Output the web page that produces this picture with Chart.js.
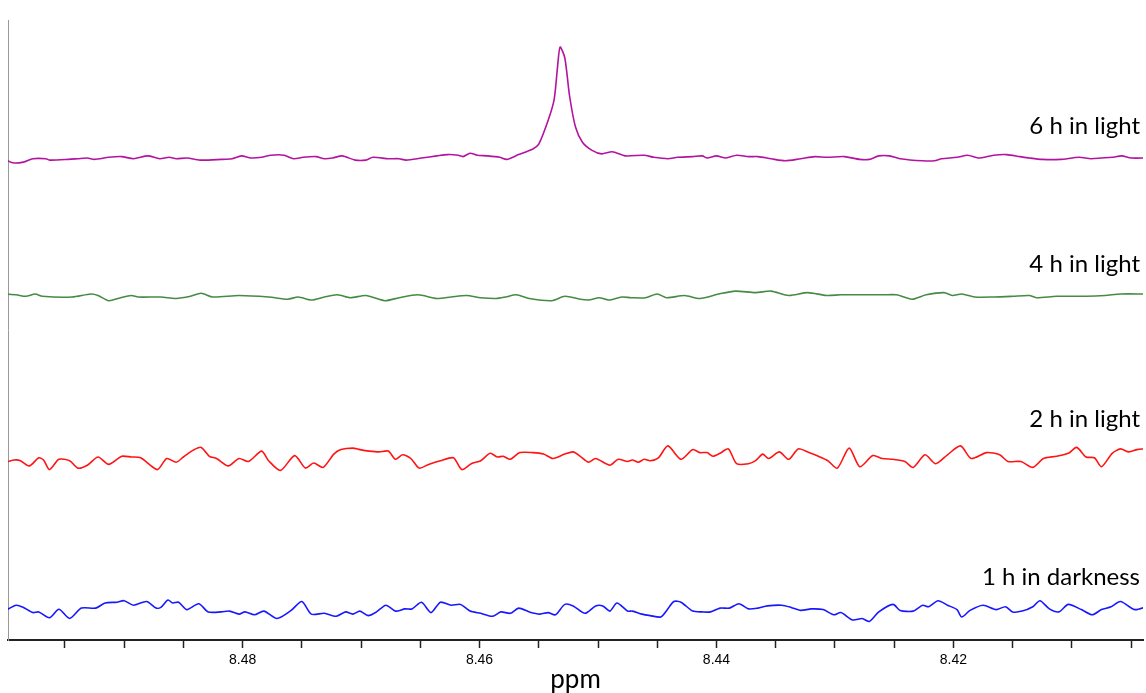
<!DOCTYPE html>
<html>
<head>
<meta charset="utf-8">
<style>
  html, body { margin: 0; padding: 0; background: #fff; }
</style>
<script src="https://cdn.jsdelivr.net/npm/chart.js@4.4.1/dist/chart.umd.min.js"></script>
</head>
<body>
<canvas id="chart" width="1146" height="693"></canvas>
<script>
// trace names, top to bottom
const seriesNames = ["6 h in light", "4 h in light", "2 h in light", "1 h in darkness"];
const seriesColors = ["#b3149f", "#468a46", "#ff1414", "#1818ff"];

// 6 h in light (magenta)
const ppm6h = [8.5000, 8.4994, 8.4985, 8.4977, 8.4966, 8.4963, 8.4947, 8.4939, 8.4931, 8.4925,
  8.4913, 8.4902, 8.4892, 8.4880, 8.4870, 8.4862, 8.4856, 8.4847, 8.4836, 8.4818,
  8.4809, 8.4801, 8.4793, 8.4784, 8.4776, 8.4765, 8.4757, 8.4749, 8.4738, 8.4731,
  8.4724, 8.4716, 8.4705, 8.4696, 8.4690, 8.4677, 8.4668, 8.4662, 8.4649, 8.4636,
  8.4627, 8.4618, 8.4614, 8.4608, 8.4602, 8.4593, 8.4583, 8.4577, 8.4567, 8.4555,
  8.4550, 8.4542, 8.4537, 8.4534, 8.4532, 8.4528, 8.4524, 8.4519, 8.4513, 8.4505,
  8.4497, 8.4488, 8.4477, 8.4461, 8.4453, 8.4441, 8.4433, 8.4420, 8.4412, 8.4408,
  8.4400, 8.4392, 8.4383, 8.4373, 8.4365, 8.4354, 8.4342, 8.4329, 8.4317, 8.4307,
  8.4292, 8.4279, 8.4271, 8.4263, 8.4254, 8.4245, 8.4226, 8.4216, 8.4210, 8.4197,
  8.4188, 8.4179, 8.4166, 8.4155, 8.4144, 8.4136, 8.4125, 8.4110, 8.4094, 8.4084,
  8.4075, 8.4066, 8.4058, 8.4050, 8.4037];
const int6h = [-1.7, -4.8, -4.1, -0.7, -0.7, -2.1, -1.4, -0.7, 0, -1.4,
  0.7, 1.4, -0.7, 2.1, -0.7, 0.7, -0.7, 0, -2.1, -1.4,
  -0.7, 2.1, 0, 0.7, 2.8, 2.8, -0.7, 0.7, 1.4, -0.7,
  0, 2.1, -2.1, -2.1, 0.7, -0.7, -0.7, -2.1, 0, 2.1,
  3.4, 2.8, 1.4, 4.8, 2.8, 2.1, 0.7, -1.4, 3.4, 9.0,
  13.8, 37.9, 58.6, 93.1, 111.0, 100.0, 62.0, 31.0, 15.5, 7.6,
  4.1, 6.2, 2.1, 2.8, 0.7, -0.7, 0.7, 1.4, 2.1, 0,
  2.1, 0, 2.8, 1.4, 1.4, -0.7, -2.8, -0.7, 1.4, 0.7,
  1.4, -1.4, -1.4, 2.1, 2.1, -0.7, -2.8, -2.8, -0.7, 0.7,
  2.8, 0, 2.8, 3.4, 1.4, 0, -1.4, -1.4, 0.7, -0.7,
  0, 0.7, 2.1, 0, 0];

// 4 h in light (green)
const ppm4h = [8.5000, 8.4991, 8.4983, 8.4975, 8.4969, 8.4944, 8.4928, 8.4922, 8.4913, 8.4903,
  8.4894, 8.4888, 8.4869, 8.4856, 8.4844, 8.4835, 8.4825, 8.4803, 8.4778, 8.4762,
  8.4753, 8.4742, 8.4731, 8.4720, 8.4709, 8.4696, 8.4680, 8.4668, 8.4652, 8.4636,
  8.4624, 8.4611, 8.4599, 8.4586, 8.4578, 8.4569, 8.4558, 8.4539, 8.4528,
  8.4515, 8.4508, 8.4499, 8.4491, 8.4480, 8.4472, 8.4460, 8.4450, 8.4442, 8.4427,
  8.4414, 8.4398, 8.4384, 8.4367, 8.4354, 8.4339, 8.4323, 8.4307, 8.4295, 8.4279,
  8.4260, 8.4248, 8.4235, 8.4223, 8.4208, 8.4201, 8.4193, 8.4182, 8.4166, 8.4150,
  8.4136, 8.4130, 8.4113, 8.4088, 8.4072, 8.4059, 8.4039];
const int4h = [3.0, 2.2, 0.7, 3.0, 0.7, 0, 3.0, 1.5, -3.7, -0.7,
  1.5, 0, 0, -1.5, 0.7, 3.7, 0, 1.5, 0, -2.2,
  0, -3.0, 0, 2.2, -0.7, 1.5, -3.7, -0.7, 2.2, -1.5,
  0, 1.5, -0.7, -1.5, 0, 2.2, -1.5, -3.7, 0.7,
  -2.2, -3.0, -0.7, -3.0, 0, -0.7, -0.7, 3.0, -0.7, 1.5,
  -1.5, 3.0, 5.9, 4.4, 5.9, 1.5, 4.4, 1.5, 2.2, 2.2,
  2.2, 2.2, -2.2, 2.2, 4.4, 1.5, 3.0, 0, 0, 0.7,
  1.5, -0.7, 0.7, 0.7, 1.5, 3.0, 3.0];

// 2 h in light (red)
const ppm2h = [8.5000, 8.4993, 8.4988, 8.4980, 8.4972, 8.4968, 8.4963, 8.4955, 8.4946, 8.4939,
  8.4931, 8.4922, 8.4913, 8.4902, 8.4894, 8.4886, 8.4872, 8.4864, 8.4856, 8.4850,
  8.4842, 8.4835, 8.4828, 8.4822, 8.4812, 8.4803, 8.4795, 8.4784, 8.4778, 8.4768,
  8.4756, 8.4747, 8.4740, 8.4732, 8.4723, 8.4717, 8.4707, 8.4701, 8.4693, 8.4685,
  8.4677, 8.4671, 8.4665, 8.4658, 8.4651, 8.4643, 8.4633, 8.4622, 8.4615, 8.4607,
  8.4599, 8.4591, 8.4585, 8.4580, 8.4574, 8.4566, 8.4555, 8.4546, 8.4538, 8.4528,
  8.4521, 8.4515, 8.4508, 8.4502, 8.4490, 8.4483, 8.4475, 8.4471, 8.4466, 8.4461,
  8.4456, 8.4449, 8.4441, 8.4430, 8.4420, 8.4414, 8.4408, 8.4403, 8.4397, 8.4390,
  8.4383, 8.4373, 8.4367, 8.4361, 8.4356, 8.4347, 8.4339, 8.4331, 8.4322, 8.4314,
  8.4306, 8.4298, 8.4288, 8.4279, 8.4268, 8.4260, 8.4251, 8.4241, 8.4234, 8.4224,
  8.4215, 8.4205, 8.4194, 8.4185, 8.4172, 8.4161, 8.4154, 8.4143, 8.4133, 8.4124,
  8.4113, 8.4103, 8.4096, 8.4088, 8.4081, 8.4075, 8.4066, 8.4059, 8.4052, 8.4045,
  8.4039];
const int2h = [-2.2, 0, -0.4, -5.9, 2.2, 0, -9.6, 0.7, -0.7, -8.1,
  -5.2, 3.0, -4.4, 3.7, 3.0, 2.2, -9.6, 1.5, -2.2, 3.0,
  9.6, 12.6, 3.7, 1.5, -5.9, 1.5, -1.5, 8.9, -0.7, -10.4,
  4.4, -8.1, -3.0, -7.4, 5.9, 10.4, 11.9, 10.4, 8.9, 8.1,
  8.9, 0.7, 5.2, 1.5, -8.1, -4.4, -0.7, 2.2, -9.6, -3.7,
  -0.7, 6.7, 3.0, 3.7, 0.7, 7.4, 7.4, 5.9, 1.5, 5.9,
  8.1, 3.7, -2.2, 1.5, -5.2, 0.7, -1.5, 0, -2.2, 0.7,
  -0.7, 2.2, 14.1, 0.7, 10.4, 7.4, 7.4, 3.7, 6.7, 11.1,
  -3.7, -3.7, -0.7, 5.9, 1.5, 8.1, 0.7, 11.1, 7.4, 3.7,
  -0.7, -8.1, 11.9, -6.7, 4.4, 1.5, 0.7, -1.5, -7.4, 5.2,
  -3.7, 5.2, 14.1, 1.5, 7.4, 5.2, -1.5, -1.5, -7.4, 1.5,
  3.7, 6.7, 12.6, 3.0, 2.2, -6.7, 6.7, 11.1, 8.1, 10.4,
  11.1];

// 1 h in darkness (blue)
const ppm1h = [8.5000, 8.4991, 8.4985, 8.4977, 8.4972, 8.4963, 8.4955, 8.4946, 8.4936, 8.4924,
  8.4916, 8.4906, 8.4900, 8.4892, 8.4881, 8.4873, 8.4869, 8.4863, 8.4859, 8.4854,
  8.4847, 8.4837, 8.4829, 8.4818, 8.4811, 8.4803, 8.4798, 8.4790, 8.4782, 8.4771,
  8.4759, 8.4750, 8.4742, 8.4731, 8.4721, 8.4713, 8.4707, 8.4701, 8.4694, 8.4687,
  8.4679, 8.4671, 8.4663, 8.4657, 8.4649, 8.4641, 8.4633, 8.4624, 8.4616, 8.4608,
  8.4599, 8.4589, 8.4582, 8.4574, 8.4567, 8.4558, 8.4549, 8.4542, 8.4536, 8.4528,
  8.4521, 8.4511, 8.4502, 8.4496, 8.4490, 8.4484, 8.4475, 8.4471, 8.4463, 8.4456,
  8.4447, 8.4442, 8.4436, 8.4430, 8.4420, 8.4412, 8.4405, 8.4397, 8.4389, 8.4381,
  8.4373, 8.4365, 8.4357, 8.4345, 8.4337, 8.4329, 8.4320, 8.4310, 8.4301, 8.4295,
  8.4285, 8.4277, 8.4271, 8.4263, 8.4251, 8.4245, 8.4234, 8.4226, 8.4221, 8.4213,
  8.4205, 8.4197, 8.4193, 8.4186, 8.4175, 8.4164, 8.4156, 8.4150, 8.4142, 8.4133,
  8.4127, 8.4119, 8.4111, 8.4103, 8.4092, 8.4083, 8.4075, 8.4067, 8.4059, 8.4047,
  8.4037];
const int1h = [-0.4, 4.8, 2.6, -2.6, -1.9, -7.8, 0.7, -8.5, 1.9, 1.9,
  7.0, 7.8, 9.3, 4.8, 8.5, 1.9, 2.6, 10.0, 7.0, 7.8,
  0.4, 6.3, -1.9, -1.9, -1.1, -4.1, -1.9, -4.8, -1.1, -8.5,
  -0.4, 8.5, -4.1, -3.3, -6.3, -1.9, -4.1, -1.1, -5.6, -1.9,
  4.8, -1.1, 1.1, 1.1, 7.8, -2.6, 7.8, 4.8, 5.6, -1.1,
  -3.3, -6.3, -1.9, -3.3, 1.9, -1.9, -4.1, -2.6, -4.8, 5.6,
  4.1, -3.3, 4.1, 4.1, -1.1, 7.0, -1.1, -1.1, -4.1, -5.6,
  -7.0, -0.4, 8.5, 7.8, -1.1, -1.9, -1.9, 1.9, 1.9, 6.3,
  1.1, 1.9, 4.1, 4.8, 2.6, -0.4, 1.1, 0.4, -4.8, -2.6,
  -10.0, -8.5, -11.5, -1.9, 5.6, -0.4, -1.1, 4.8, 3.3, 9.3,
  4.8, 0.4, -7.0, -0.4, 4.8, 0.4, 3.3, -1.9, -1.1, 3.3,
  9.3, 1.1, -1.9, 5.6, 0.4, -4.8, 0.4, 3.3, 8.5, 0.4,
  3.3];

const allPpm = [ppm6h, ppm4h, ppm2h, ppm1h];
const allInt = [int6h, int4h, int2h, int1h];

// vertical stacking of the spectra and where their names sit
const stackOffsets = [482, 343, 180, 30];
const labelLevels = [514, 376, 221, 63];

const datasets = seriesNames.map((name, i) => ({
  label: name,
  data: allPpm[i].map((p, j) => ({ x: p, y: allInt[i][j] + stackOffsets[i] })),
  borderColor: seriesColors[i],
  borderWidth: 1.6,
  pointRadius: 0,
  tension: 0.25,
  fill: false,
}));

const traceLabels = {
  id: "traceLabels",
  afterDatasetsDraw(chart) {
    const { ctx, chartArea, scales } = chart;
    ctx.save();
    ctx.font = "24px Lato";
    ctx.fillStyle = "#000";
    ctx.textAlign = "right";
    ctx.textBaseline = "middle";
    seriesNames.forEach((name, i) => {
      ctx.fillText(name, chartArea.right - 3, scales.y.getPixelForValue(labelLevels[i]));
    });
    ctx.restore();
  },
};

new Chart(document.getElementById("chart"), {
  type: "line",
  data: { datasets },
  plugins: [traceLabels],
  options: {
    responsive: false,
    animation: false,
    devicePixelRatio: 1,
    layout: { padding: { top: 20, left: 8, right: 3, bottom: 0 } },
    plugins: { legend: { display: false }, tooltip: { enabled: false } },
    scales: {
      x: {
        type: "linear",
        reverse: true,
        min: 8.404,
        max: 8.4998,
        afterFit: (s) => { s.height = 53; },
        ticks: {
          stepSize: 0.005,
          includeBounds: false,
          autoSkip: false,
          maxRotation: 0,
          padding: 4,
          color: "#000",
          font: { family: "Liberation Sans", size: 14 },
          callback: (v) => (Math.round(v * 1000) % 20 === 0 ? v.toFixed(2) : ""),
        },
        grid: { drawOnChartArea: false, tickLength: 8, tickWidth: 1.5, color: "#222" },
        border: { color: "#222", width: 2 },
        title: {
          display: true,
          text: "ppm",
          color: "#000",
          font: { family: "Lato", size: 26, lineHeight: 1 },
          padding: 0,
        },
      },
      y: {
        min: 0,
        max: 620,
        afterFit: (s) => { s.width = 0; },
        ticks: { display: false },
        grid: { display: false },
        border: { display: true, color: "#999", width: 1 },
      },
    },
  },
});
</script>
</body>
</html>
